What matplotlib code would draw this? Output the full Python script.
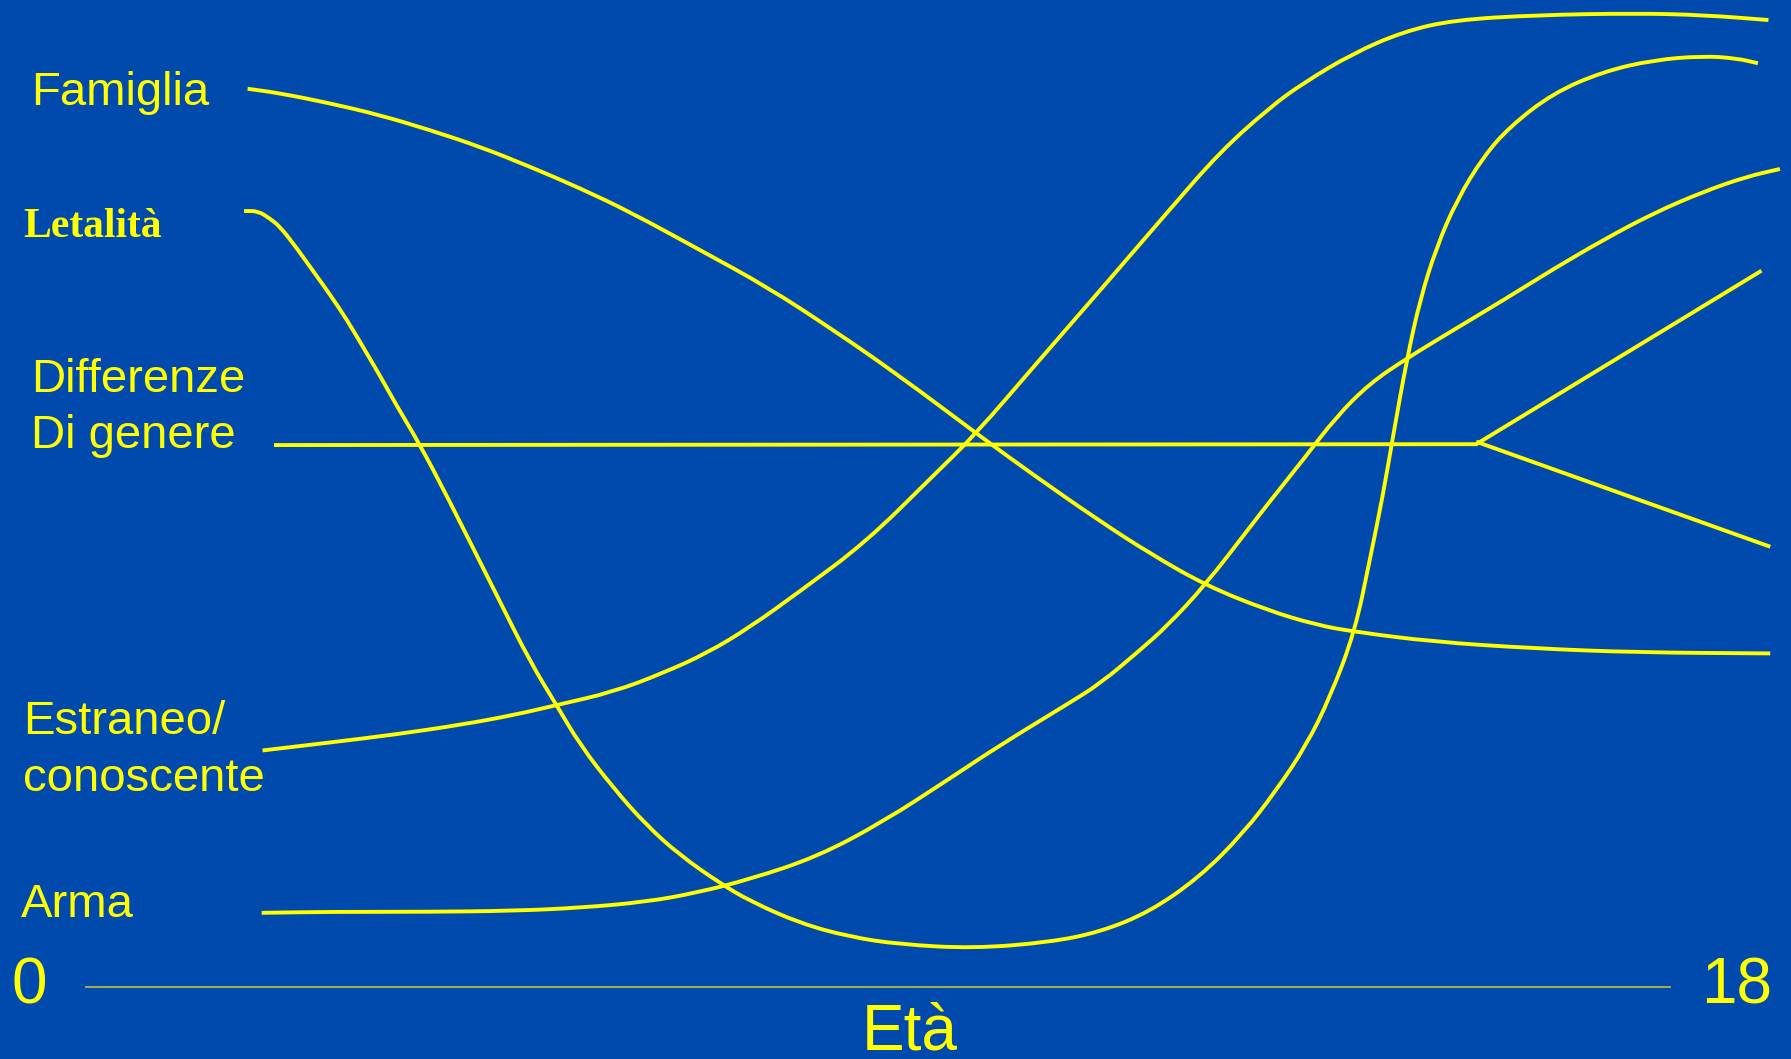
import matplotlib
matplotlib.use('Agg')
import matplotlib.pyplot as plt
from matplotlib import font_manager
from matplotlib.path import Path
from matplotlib.patches import PathPatch

famiglia_x = [1.84, 2.21, 2.78, 3.34, 3.91, 4.48, 5.05, 5.62, 6.18, 6.98, 7.74, 8.49, 9.25, 10.12,
              10.77, 11.53, 12.09, 12.72, 13.42, 13.99, 14.42, 15.31, 16.45, 17.62, 19.14]
famiglia_y = [91.01, 90.55, 89.53, 88.35, 86.83, 85.14, 83.11, 80.92, 78.55, 74.67, 70.95, 66.6, 61.9, 56.09,
              51.87, 47.16, 43.94, 40.72, 38.19, 36.67, 35.99, 34.98, 34.31, 33.90, 33.80]

letalita_x = [1.80, 1.96, 2.09, 2.21, 2.40, 2.59, 2.78, 2.97, 3.15, 3.34, 3.53, 3.80, 4.10, 4.67, 5.05, 5.35,
              5.62, 6.00, 6.37, 6.75, 7.21, 7.55, 8.12, 8.68, 9.25, 10.09, 10.96, 11.53, 12.09, 12.66,
              13.15, 13.53, 13.87, 14.14, 14.42, 14.59, 14.74, 14.86, 15.01, 15.16, 15.35, 15.58, 15.88,
              16.18, 16.67, 17.24, 17.81, 18.38, 18.76, 19.00]
letalita_y = [78.62, 78.62, 77.88, 77.03, 74.84, 72.47, 70.11, 67.58, 64.87, 62.00, 58.96, 54.91, 49.84, 39.71,
              32.95, 28.56, 24.51, 20.12, 16.41, 13.37, 10.50, 8.70, 6.45, 5.09, 4.32, 3.91, 4.55, 5.59, 7.62,
              11.17, 15.56, 19.95, 24.51, 29.38, 35.99, 43.26, 49.84, 56.09, 63.52, 69.60, 75.00, 79.73, 84.12,
              87.16, 90.55, 92.74, 93.92, 94.33, 94.09, 93.59]

genere_x = [2.14, 15.80, 19.04]
genere_y = [54.91, 55.0, 72.57]
genere_low_x = [15.80, 19.14]
genere_low_y = [55.25, 44.61]

estraneo_x = [2.01, 2.78, 3.53, 4.29, 4.86, 5.35, 6.00, 6.56, 7.06, 7.55, 8.12, 8.87, 9.63, 10.12, 10.77,
              11.53, 12.28, 12.89, 13.46, 13.83, 14.40, 14.97, 15.54, 16.49, 17.62, 18.38, 19.12]
estraneo_y = [23.97, 24.78, 25.60, 26.61, 27.55, 28.56, 29.91, 31.81, 33.83, 36.47, 40.12, 45.11, 51.8, 56.09,
              62.84, 70.62, 78.39, 84.63, 89.16, 91.56, 94.60, 96.79, 97.97, 98.48, 98.65, 98.48, 97.97]

arma_x = [2.00, 2.78, 3.91, 4.86, 5.62, 6.37, 6.94, 7.55, 8.31, 9.06, 9.82, 10.39, 11.15, 11.53, 11.98, 12.28,
          12.72, 13.23, 13.46, 13.83, 14.21, 14.59, 15.01, 15.54, 16.11, 16.67, 17.24, 17.81, 18.38, 18.87, 19.25]
arma_y = [7.52, 7.62, 7.62, 7.72, 8.03, 8.63, 9.55, 10.93, 13.19, 16.74, 21.14, 24.51, 28.64, 30.76, 34.14, 36.51,
          40.72, 46.61, 49.26, 53.39, 57.78, 61.16, 63.69, 66.56, 69.60, 72.71, 75.68, 78.39, 80.58, 82.10, 82.88]

age_ticks = ['0', '18']

bg = '#004aad'
yel = '#ffff00'


def smooth_path(xs, ys):
    # curva quadratica: i punti letti fanno da vertici di controllo
    pts = list(zip(xs, ys))
    mids = [((pts[i][0] + pts[i + 1][0]) / 2, (pts[i][1] + pts[i + 1][1]) / 2) for i in range(len(pts) - 1)]
    verts = [pts[0], mids[0]]
    codes = [Path.MOVETO, Path.LINETO]
    for i in range(1, len(pts) - 1):
        verts += [pts[i], mids[i]]
        codes += [Path.CURVE3, Path.CURVE3]
    verts.append(pts[-1])
    codes.append(Path.LINETO)
    return Path(verts, codes)


names = {f.name for f in font_manager.fontManager.ttflist}
narrow = 'Liberation Sans Narrow' if 'Liberation Sans Narrow' in names else 'Liberation Sans'

fig = plt.figure(figsize=(17.91, 10.59), dpi=100, facecolor=bg)
ax = fig.add_axes([0, 0, 1, 1])
ax.set_facecolor(bg)
ax.set_xlim(-0.973, 19.376)
ax.set_ylim(-7.29, 100)
ax.axis('off')

lw = 2.8
for xs, ys in [(famiglia_x, famiglia_y), (letalita_x, letalita_y), (estraneo_x, estraneo_y), (arma_x, arma_y)]:
    ax.add_patch(PathPatch(smooth_path(xs, ys), fill=False, edgecolor=yel, lw=lw,
                           capstyle='butt', joinstyle='round'))

for xs, ys in [(genere_x, genere_y), (genere_low_x, genere_low_y)]:
    ax.plot(xs, ys, color=yel, lw=lw, solid_joinstyle='miter', solid_capstyle='butt')

# asse dell'età
ax.plot([0, 18], [0, 0], color='#b0b848', lw=1.3)

lab = dict(color=yel, fontsize=34, family='Liberation Sans', ha='left', va='baseline')
ax.text(-0.62, 89.4, 'Famiglia', **lab)
ax.text(-0.71, 76.0, 'Letalità', color=yel, fontsize=30, family='Liberation Serif',
        fontweight='bold', ha='left', va='baseline')
ax.text(-0.62, 60.3, 'Differenze', **lab)
ax.text(-0.62, 54.6, 'Di genere', **lab)
ax.text(-0.71, 25.6, 'Estraneo/', **lab)
ax.text(-0.71, 19.9, 'conoscente', **lab)
ax.text(-0.74, 7.1, 'Arma', **lab)

big = dict(color=yel, fontsize=46, family=narrow, va='baseline')
ax.text(-0.84, -1.7, age_ticks[0], ha='left', **big)
ax.text(18.36, -1.7, age_ticks[1], ha='left', **big)
ax.text(8.82, -6.3, 'Età', ha='left', **big)

fig.savefig('out.png', dpi=100, facecolor=bg)
